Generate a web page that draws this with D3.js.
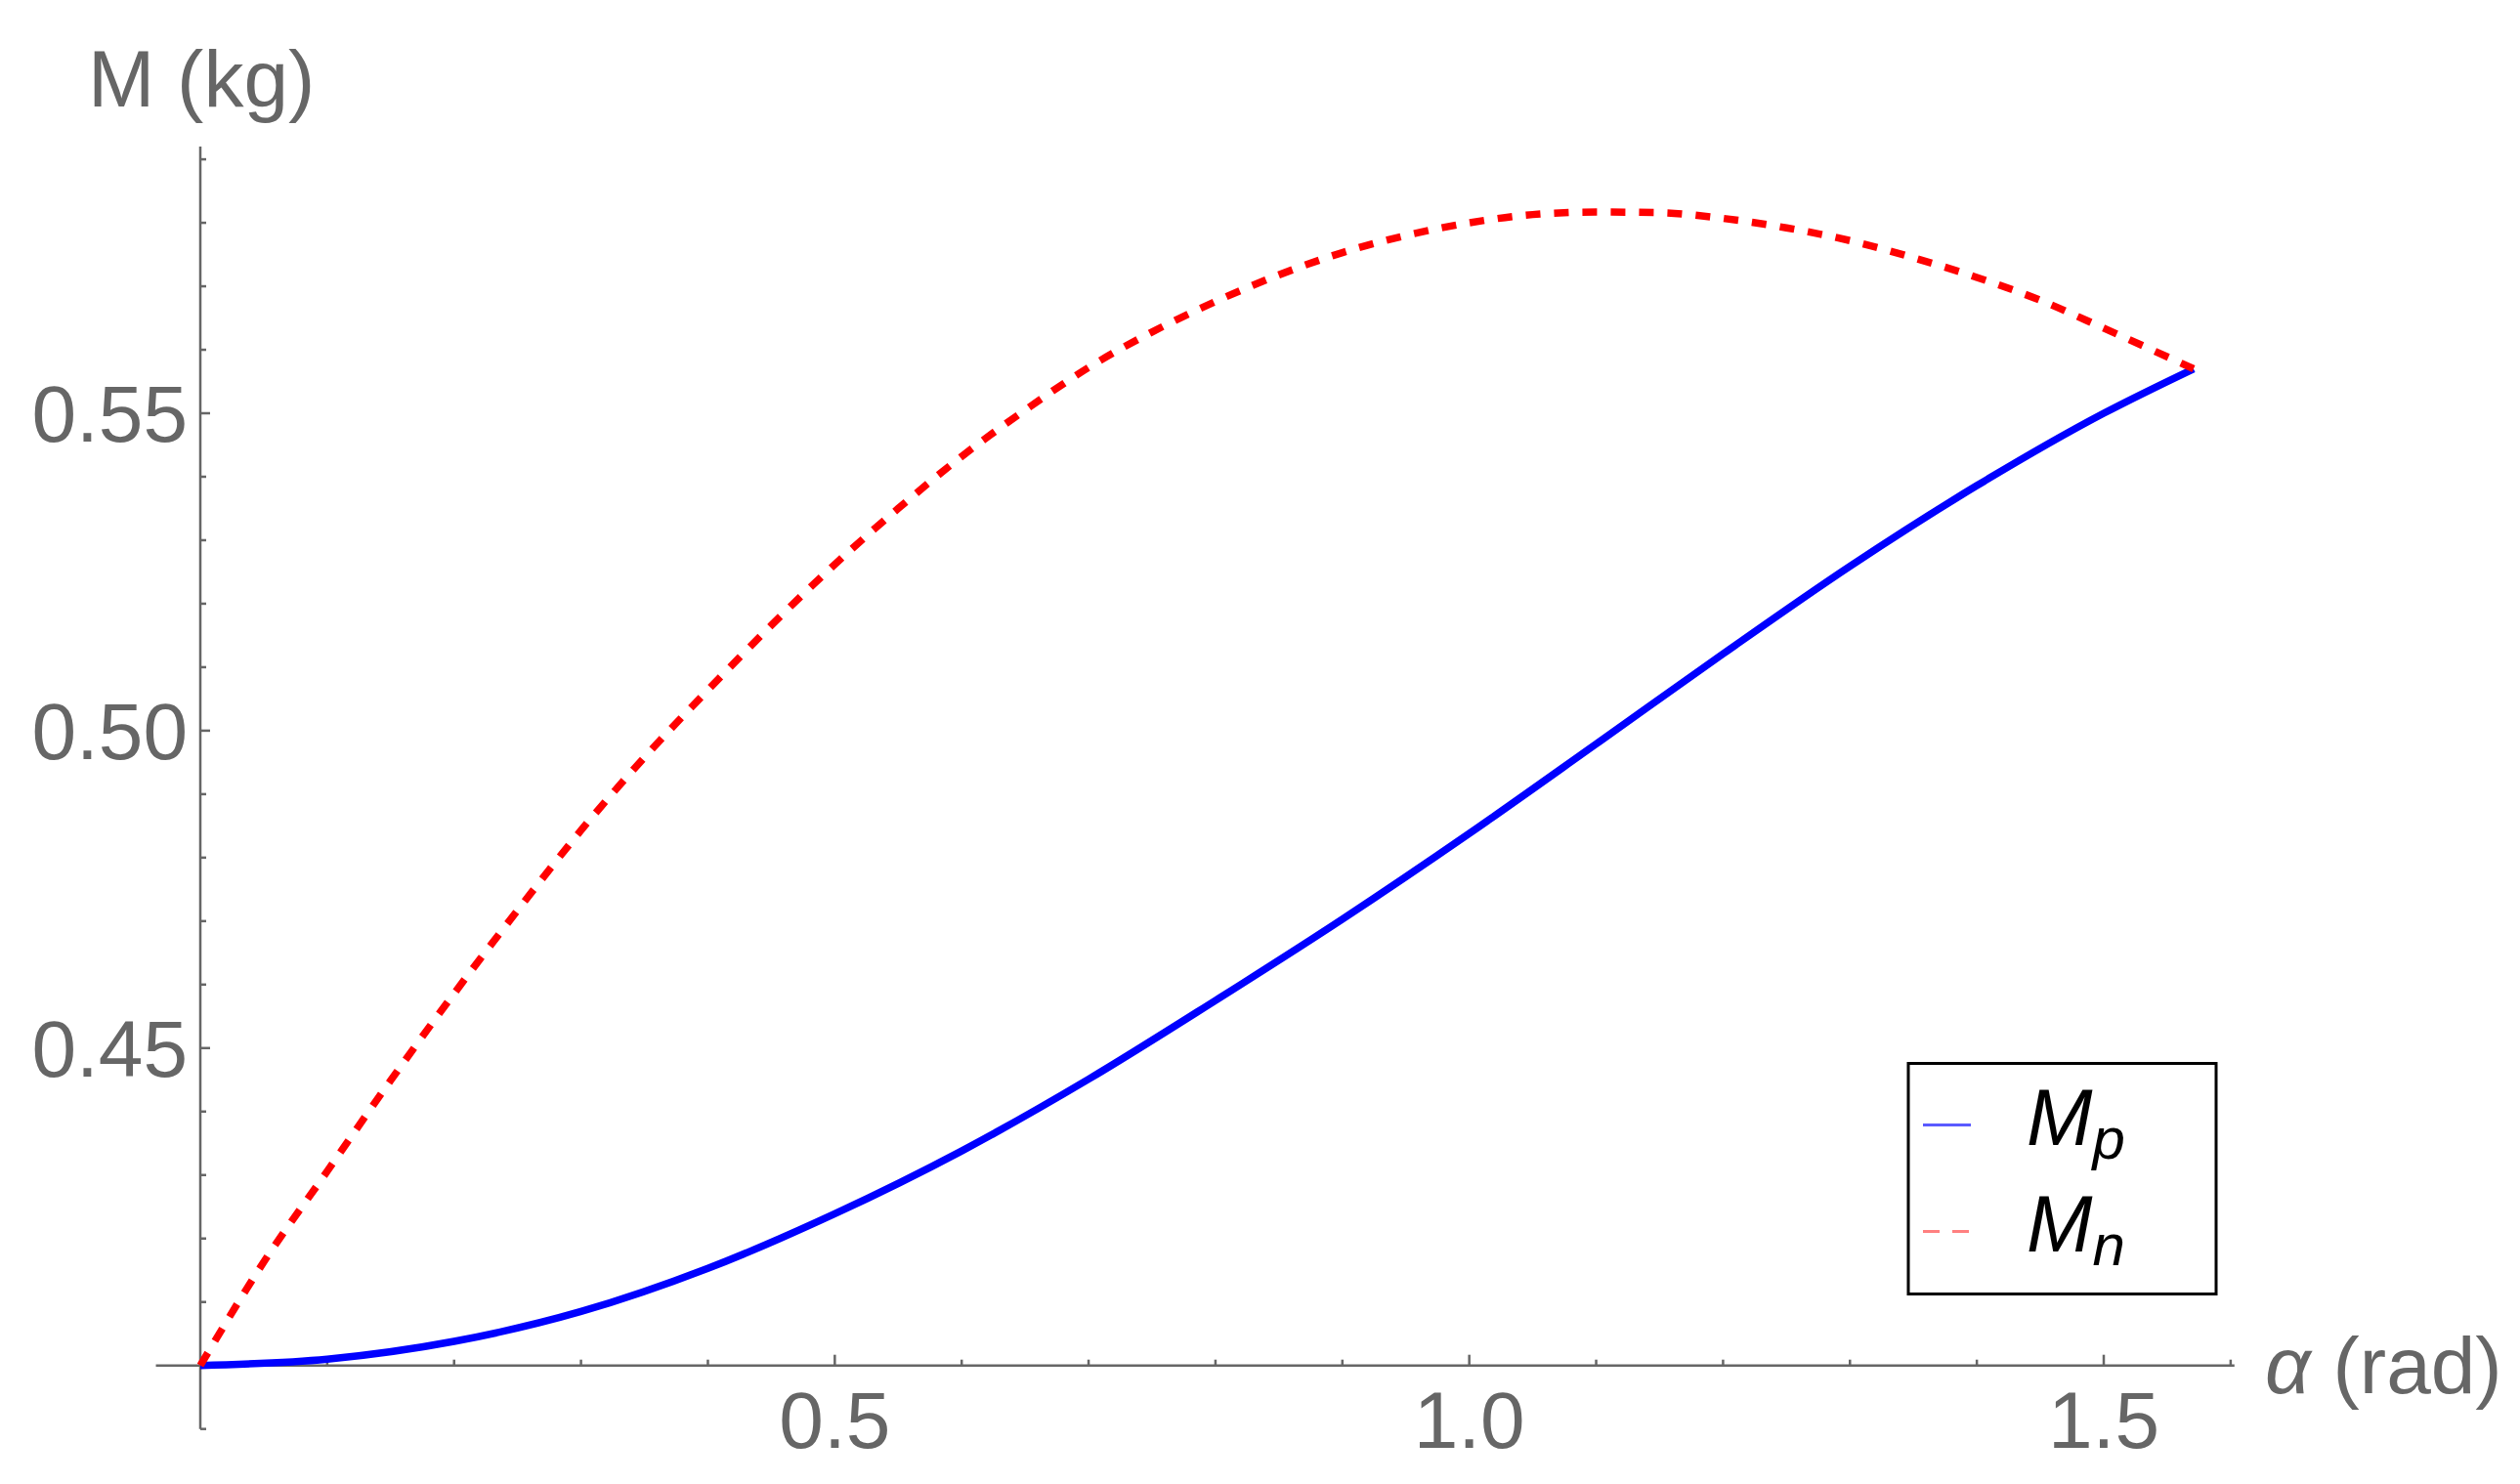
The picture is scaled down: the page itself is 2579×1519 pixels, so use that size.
<!DOCTYPE html>
<html>
<head>
<meta charset="utf-8">
<script src="https://cdn.jsdelivr.net/npm/d3@7"></script>
<style>
  html, body { margin: 0; padding: 0; background: #fff; }
  svg { display: block; }
</style>
</head>
<body>
<div id="chart"></div>
<script>
// values
const alphaP = [0, 0.1, 0.2, 0.3, 0.4, 0.5, 0.6, 0.7, 0.8, 0.9, 1.0, 1.1, 1.2, 1.3, 1.4, 1.5, 1.5708];
const massP = [0.400, 0.4010, 0.4038, 0.4085, 0.4153, 0.4239, 0.4338, 0.4451, 0.4575, 0.4703, 0.4838, 0.4979, 0.5121, 0.5259, 0.5386, 0.5500, 0.5570];

const alphaN = [0, 0.05, 0.1, 0.15, 0.2, 0.25, 0.3, 0.35, 0.4, 0.45, 0.5, 0.55, 0.6, 0.65, 0.7, 0.75, 0.8,
  0.85, 0.9, 0.95, 1.0, 1.05, 1.1, 1.15, 1.2, 1.25, 1.3, 1.35, 1.4, 1.45, 1.5, 1.5708];
const massN = [0.400, 0.4163, 0.4306, 0.4449, 0.4586, 0.4717, 0.4843, 0.4958, 0.5064, 0.5166, 0.5262, 0.5350,
  0.5432, 0.5505, 0.5572, 0.5628, 0.5676, 0.5718, 0.5753, 0.5780, 0.5800, 0.5813, 0.5817, 0.5816, 0.5807,
  0.5792, 0.5772, 0.5745, 0.5714, 0.5678, 0.5634, 0.5570];

const xMajorTicks = [0.5, 1.0, 1.5];
const xMinorTicks = [0.1, 0.2, 0.3, 0.4, 0.6, 0.7, 0.8, 0.9, 1.1, 1.2, 1.3, 1.4, 1.6];
const yMajorTicks = [0.45, 0.50, 0.55];
const yMinorTicks = [0.39, 0.41, 0.42, 0.43, 0.44, 0.46, 0.47, 0.48, 0.49, 0.51, 0.52, 0.53, 0.54, 0.56, 0.57, 0.58, 0.59];

const xExtent = [-0.035, 1.603];
const yExtent = [0.39, 0.592];

const W = 2579, H = 1519;
const axisColor = '#666666';
const font = '"Liberation Sans", Arial, sans-serif';

const x = d3.scaleLinear().domain([0, 1.5]).range([205, 2153]);
const y = d3.scaleLinear().domain([0.40, 0.55]).range([1397.7, 423]);

const svg = d3.select('#chart').append('svg')
  .attr('width', W)
  .attr('height', H)
  .attr('viewBox', `0 0 ${W} ${H}`)
  .style('background', '#fff');

// axes lines
const axes = svg.append('g').attr('stroke', axisColor).attr('stroke-width', 2.5);
axes.append('line')
  .attr('x1', x(xExtent[0])).attr('x2', x(xExtent[1]))
  .attr('y1', y(0.40)).attr('y2', y(0.40));
axes.append('line')
  .attr('x1', x(0)).attr('x2', x(0))
  .attr('y1', y(yExtent[0])).attr('y2', y(yExtent[1]));

// x ticks (pointing up into the plot)
axes.selectAll('.xmaj').data(xMajorTicks).enter().append('line')
  .attr('x1', d => x(d)).attr('x2', d => x(d))
  .attr('y1', y(0.40)).attr('y2', y(0.40) - 11);
axes.selectAll('.xmin').data(xMinorTicks).enter().append('line')
  .attr('x1', d => x(d)).attr('x2', d => x(d))
  .attr('y1', y(0.40)).attr('y2', y(0.40) - 6);

// y ticks (pointing right)
axes.selectAll('.ymaj').data(yMajorTicks).enter().append('line')
  .attr('x1', x(0)).attr('x2', x(0) + 10)
  .attr('y1', d => y(d)).attr('y2', d => y(d));
axes.selectAll('.ymin').data(yMinorTicks).enter().append('line')
  .attr('x1', x(0)).attr('x2', x(0) + 6)
  .attr('y1', d => y(d)).attr('y2', d => y(d));

// tick labels
svg.append('g').selectAll('text').data(xMajorTicks).enter().append('text')
  .attr('x', d => x(d))
  .attr('y', 1482)
  .attr('text-anchor', 'middle')
  .attr('font-family', font)
  .attr('font-size', 82)
  .attr('fill', axisColor)
  .text(d => d.toFixed(1));

svg.append('g').selectAll('text').data(yMajorTicks).enter().append('text')
  .attr('x', 192)
  .attr('y', d => y(d) + 29)
  .attr('text-anchor', 'end')
  .attr('font-family', font)
  .attr('font-size', 82)
  .attr('fill', axisColor)
  .text(d => d.toFixed(2));

// axis titles
svg.append('text')
  .attr('x', 90)
  .attr('y', 109)
  .attr('font-family', font)
  .attr('font-size', 82)
  .attr('fill', axisColor)
  .text('M (kg)');

const xt = svg.append('text')
  .attr('x', 2318)
  .attr('y', 1426)
  .attr('font-family', font)
  .attr('font-size', 82)
  .attr('fill', axisColor);
xt.append('tspan').attr('font-style', 'italic').text('α');
xt.append('tspan').text(' (rad)');

// curves
const line = d3.line()
  .x(d => x(d[0]))
  .y(d => y(d[1]))
  .curve(d3.curveMonotoneX);

svg.append('path')
  .datum(d3.zip(alphaP, massP))
  .attr('d', line)
  .attr('fill', 'none')
  .attr('stroke', '#0000ff')
  .attr('stroke-width', 7.5);

svg.append('path')
  .datum(d3.zip(alphaN, massN))
  .attr('d', line)
  .attr('fill', 'none')
  .attr('stroke', '#ff0000')
  .attr('stroke-width', 7.5)
  .attr('stroke-dasharray', '15,14');

// legend
const legend = svg.append('g');
legend.append('rect')
  .attr('x', 1953).attr('y', 1088.5)
  .attr('width', 315).attr('height', 236)
  .attr('fill', '#fff')
  .attr('stroke', '#000')
  .attr('stroke-width', 3);

const legendItems = [
  { label: 'M', sub: 'p', color: '#5a5aff', dash: null, y: 1151.5 },
  { label: 'M', sub: 'n', color: '#ff8080', dash: '17,13', y: 1260.5 }
];

legendItems.forEach(item => {
  legend.append('line')
    .attr('x1', 1968).attr('x2', 2017)
    .attr('y1', item.y).attr('y2', item.y)
    .attr('stroke', item.color)
    .attr('stroke-width', 3)
    .attr('stroke-dasharray', item.dash);

  const t = legend.append('text')
    .attr('x', 2074)
    .attr('y', item.y + 20)
    .attr('font-family', font)
    .attr('font-style', 'italic')
    .attr('font-size', 81)
    .attr('fill', '#000');
  t.append('tspan').text(item.label);
  t.append('tspan').attr('font-size', 60).attr('dy', 14).text(item.sub);
});
</script>
</body>
</html>
